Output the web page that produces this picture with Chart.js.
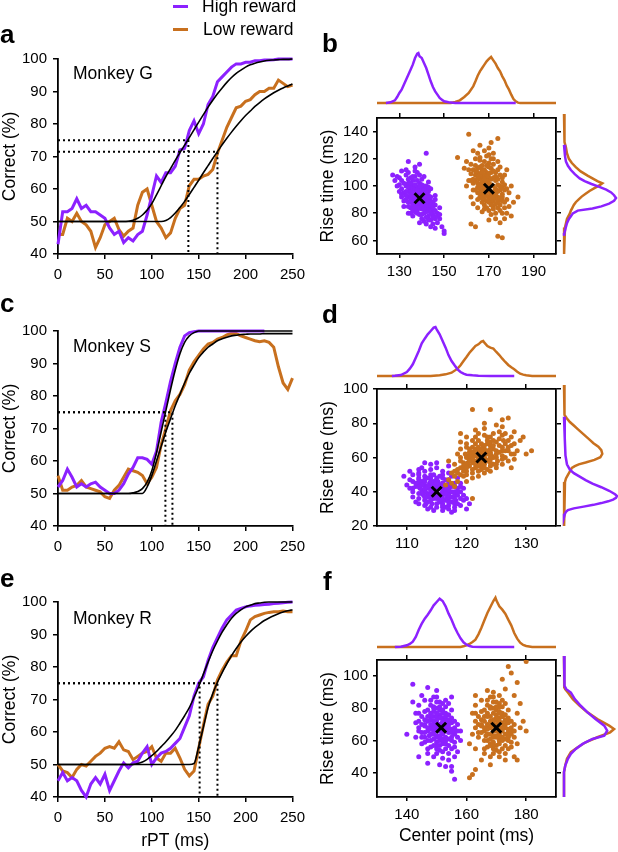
<!DOCTYPE html>
<html>
<head>
<meta charset="utf-8">
<script src="https://cdn.jsdelivr.net/npm/chart.js@4.4.1/dist/chart.umd.min.js"></script>
<style>
html, body { margin: 0; padding: 0; background: #fff; }
#fig { position: relative; width: 618px; height: 852px; overflow: hidden; font-family: "Liberation Sans", Arial, sans-serif; color: #000; }
#fig canvas { position: absolute; }
.lbl { position: absolute; line-height: 1; white-space: nowrap; z-index: 5; }
.panel { font-weight: bold; font-size: 26px; }
.note { font-size: 17.5px; }
.key { position: absolute; width: 15px; height: 3px; z-index: 5; }
</style>
</head>
<body>
<div id="fig">
  <canvas id="lineA" width="312" height="242" style="left:0;top:44px"></canvas>
  <canvas id="lineC" width="312" height="242" style="left:0;top:316px"></canvas>
  <canvas id="lineE" width="312" height="265" style="left:0;top:587px"></canvas>
  <canvas id="scatB" width="250" height="182" style="left:318px;top:104px"></canvas>
  <canvas id="scatD" width="250" height="183" style="left:318px;top:375px"></canvas>
  <canvas id="scatF" width="250" height="201" style="left:318px;top:646px"></canvas>
  <canvas id="topB" width="179" height="59" style="left:377px;top:47px"></canvas>
  <canvas id="topD" width="179" height="59" style="left:377px;top:320px"></canvas>
  <canvas id="topF" width="179" height="59" style="left:377px;top:591px"></canvas>
  <canvas id="sideB" width="56" height="140" style="left:562px;top:114px"></canvas>
  <canvas id="sideD" width="56" height="141" style="left:562px;top:385px"></canvas>
  <canvas id="sideF" width="56" height="141" style="left:562px;top:656px"></canvas>

  <div class="key" style="left:173px;top:5px;background:#8c21ff"></div>
  <div class="lbl note" style="left:202px;top:-2px">High reward</div>
  <div class="key" style="left:173px;top:28px;background:#c8701e"></div>
  <div class="lbl note" style="left:203px;top:21px">Low reward</div>

  <div class="lbl panel" style="left:0;top:21px">a</div>
  <div class="lbl panel" style="left:322px;top:30px">b</div>
  <div class="lbl panel" style="left:0;top:290px">c</div>
  <div class="lbl panel" style="left:322px;top:301px">d</div>
  <div class="lbl panel" style="left:0;top:565px">e</div>
  <div class="lbl panel" style="left:323px;top:568px">f</div>

  <div class="lbl note" style="left:73px;top:65px">Monkey G</div>
  <div class="lbl note" style="left:73px;top:338px">Monkey S</div>
  <div class="lbl note" style="left:73px;top:610px">Monkey R</div>
</div>

<script>
// colours of the two reward conditions
const HIGH = '#8c21ff';
const LOW = '#c8701e';

// ---- psychometric curves (rPT in ms, % correct) ----
const rpt = [0, 5, 10, 15, 20, 25, 30, 35, 40, 45, 50, 55, 60, 65, 70, 75, 80, 85, 90, 95,
  100, 105, 110, 115, 120, 125, 130, 135, 140, 145, 150, 155, 160, 165, 170, 175, 180, 185, 190, 195,
  200, 205, 210, 215, 220, 225, 230, 235, 240, 245, 250];
const rptTicks = [0, 50, 100, 150, 200, 250];
const correctTicks = [40, 50, 60, 70, 80, 90, 100];

// Monkey G
const highA = [43, 53, 53, 54, 57, 54, 55, 53, 53, 52,
  51, 48, 46, 47, 43.5, 45, 44, 46, 47, 52,
  58, 64, 62, 65, 65, 67, 72, 72.5, 78, 81,
  77, 80, 86, 88.5, 93, 94.5, 96, 97.5, 98.5, 98.5,
  99, 99, 99.5, 99.5, 99.7, 99.7, 99.8, 100, 100, 100, 100];
const lowA = [46, 46, 51, 50, 52.5, 50, 49, 47, 42, 45,
  49, 50, 51, 47.5, 45.5, 47, 48, 55, 59, 60,
  55, 50, 48, 45, 46.5, 51, 54, 55, 61, 63,
  63, 64, 64.5, 66, 71, 75, 79, 82, 85, 85.5,
  87, 87.5, 89, 90, 90, 91, 91, 93.5, 92.5, 91.5, 92];
const fitHighA = [50, 50, 50, 50, 50, 50, 50, 50, 50, 50,
  50, 50, 50, 50, 50, 50.1, 50.4, 51, 52, 53.5,
  55.5, 58.2, 61, 63.8, 66.3, 68.8, 71.2, 73.5, 75.8, 78.2,
  80.6, 82.9, 85.2, 87.3, 89.3, 91.1, 92.8, 94.3, 95.6, 96.6,
  97.5, 98.2, 98.7, 99.1, 99.4, 99.6, 99.7, 99.8, 99.9, 99.9, 100];
const fitLowA = [50, 50, 50, 50, 50, 50, 50, 50, 50, 50,
  50, 50, 50, 50, 50, 50, 50, 50, 50, 50,
  50, 50, 50, 50.3, 51.2, 52.6, 54.3, 56.2, 58.3, 60.5,
  62.7, 65, 67.2, 69.4, 71.5, 73.6, 75.6, 77.5, 79.3, 81,
  82.6, 84, 85.4, 86.6, 87.7, 88.7, 89.6, 90.4, 91.1, 91.7, 92.3];
const levelA = [75, 71.5];
const crossA = [139, 170];

// Monkey S
const highC = [52, 54, 57.5, 55, 52, 53, 52, 53, 53.5, 52,
  51, 50, 50, 51, 53, 56, 58, 61, 61, 60.5,
  59, 63, 72, 78, 84.5, 90, 95, 98.5, 99.5, 99.8,
  100, 100, 100, 100, 100, 100, 100, 100, 100, 100,
  100, 100, 100, 100, 100, null, null, null, null, null, null];
const lowC = [55.5, 51, 51, 52, 52.5, 54, 52, 51.5, 51, 50.5,
  49, 48.5, 51, 52.5, 55, 57.5, 57, 56.5, 55.5, 53,
  55, 58, 65, 70, 75.5, 78.5, 80.5, 83.5, 88, 90.5,
  92.5, 94.5, 96, 96.5, 97.5, 98, 98.8, 99.3, 99.2, 98.5,
  98, 97.5, 97, 96.7, 97, 96.5, 95, 89, 84, 82, 85.5];
const fitHighC = [50, 50, 50, 50, 50, 50, 50, 50, 50, 50,
  50, 50, 50, 50, 50, 50, 50.2, 50.6, 51.5, 53.5,
  57, 62.5, 69, 75.5, 82, 88, 93, 96.5, 98.5, 99.5,
  100, 100, 100, 100, 100, 100, 100, 100, 100, 100,
  100, 100, 100, 100, 100, 100, 100, 100, 100, 100, 100];
const fitLowC = [50, 50, 50, 50, 50, 50, 50, 50, 50, 50,
  50, 50, 50, 50, 50, 50, 50, 50, 50, 52,
  55.5, 60, 64.5, 69, 73, 77, 80.5, 84, 87, 89.5,
  91.8, 93.5, 95, 96, 97, 97.6, 98.1, 98.5, 98.7, 98.9,
  99, 99.1, 99.1, 99.1, 99.2, 99.2, 99.2, 99.2, 99.2, 99.2, 99.2];
const levelC = [75, 75];
const crossC = [114.5, 122];

// Monkey R
const highE = [45, 47.5, 45, 46, 45, 42, 40, 44, 46, 44,
  47, 42, 45, 48, 50.5, 49, 50.5, 51, 53.5, 55.5,
  50, 52, 53.5, 54, 55, 56.5, 58, 61.5, 65, 71,
  75, 77, 82, 86, 89, 92, 94.5, 96, 97.5, 98,
  98.5, 98.8, 99, 99.1, 99.2, 99.3, 99.5, 99.6, 99.8, 99.9, 100];
const lowE = [50, 48, 47.5, 46, 48.5, 50, 49.5, 51, 52.5, 53.5,
  55, 55.5, 55, 57, 54.5, 54, 51.5, 52.5, 53.5, 54,
  55.5, 52, 51, 53.5, 53.5, 55, 52, 48.5, 46.5, 48,
  55, 62, 68.5, 71, 76, 79, 81.5, 83.5, 83.5, 88,
  91, 94.5, 95.5, 96, 96.5, 96.8, 97, 97, 97.2, 97, 97];
const fitHighE = [50, 50, 50, 50, 50, 50, 50, 50, 50, 50,
  50, 50, 50, 50, 50, 50, 50, 50.3, 50.8, 51.6,
  52.7, 54, 55.5, 57, 58.7, 60.5, 62.7, 65, 67.5, 70.6,
  74, 77.8, 81.5, 85, 88, 90.7, 93, 95, 96.5, 97.6,
  98.5, 99, 99.5, 99.7, 99.9, 100, 100, 100, 100, 100, 100];
const fitLowE = [50, 50, 50, 50, 50, 50, 50, 50, 50, 50,
  50, 50, 50, 50, 50, 50, 50, 50, 50, 50,
  50, 50, 50, 50, 50, 50, 50, 50, 50, 50.3,
  55.5, 61.5, 67.5, 71.8, 75.3, 78.3, 81, 83.5, 85.7, 87.7,
  89.4, 90.9, 92.2, 93.3, 94.3, 95.1, 95.8, 96.4, 96.9, 97.3, 97.6];
const levelE = [75, 75];
const crossE = [151, 170];

// ---- bootstrap fits: center point (ms), rise time (ms) pairs ----
const bXTicks = [130, 150, 170, 190];
const bYTicks = [60, 80, 100, 120, 140];
const bHigh = [139,91, 137,94, 141,88, 135,97, 143,85, 138,99, 140,83, 136,90, 142,93, 134,92,
  144,89, 137,86, 139,102, 141,80, 133,100, 145,82, 136,104, 142,98, 138,87, 140,95,
  132,95, 146,86, 135,84, 143,78, 137,107, 139,79, 134,102, 141,100, 144,75, 131,98,
  138,92, 136,96, 140,89, 142,84, 134,88, 143,91, 137,81, 139,97, 145,88, 133,93,
  131,104, 135,106, 147,80, 146,76, 138,110, 130,101, 136,100, 140,105, 142,77, 144,84,
  132,89, 148,84, 136,82, 141,95, 139,85, 137,99, 143,96, 135,91, 145,79, 133,108,
  129,107, 128,104, 130,96, 147,73, 149,70, 148,76, 145,72, 142,72, 140,76, 139,73,
  134,110, 137,114, 139,116, 134,118, 142,124, 131,111, 127,108, 129,100, 150,67, 150,65,
  146,69, 144,70, 131,92, 132,85, 134,80, 136,78, 141,107, 143,103, 144,98, 146,93,
  138,82, 140,98, 142,89, 136,93, 134,96, 141,86, 143,82, 137,90, 139,88, 135,100,
  138,95, 140,92, 136,88, 142,86, 137,101, 139,84, 141,97, 135,94, 143,88, 134,99,
  138,89, 140,86, 137,92, 139,94, 141,91, 136,98, 142,81, 144,86, 135,88, 138,104,
  140,101, 143,93, 133,96, 146,82, 139,90, 137,97, 141,83, 136,86, 138,80, 142,95,
  134,105, 144,80, 140,79, 135,102, 139,108, 132,102, 145,85, 143,75, 137,84, 141,92,
  136,107, 133,90, 147,78, 138,97, 140,90, 142,100, 134,85, 144,92, 136,95, 139,100,
  131,94, 130,106, 148,79, 145,77, 141,74, 137,111, 133,112, 146,90, 135,80, 143,99];
const bLow = [170,98, 168,102, 172,95, 166,105, 174,92, 169,110, 171,88, 167,97, 173,104, 165,99,
  175,100, 168,90, 170,114, 172,85, 164,108, 176,94, 167,112, 173,110, 169,93, 171,105,
  163,102, 177,97, 166,92, 174,84, 168,118, 170,82, 165,113, 172,116, 175,86, 162,109,
  169,99, 167,107, 171,96, 173,91, 165,95, 174,101, 168,86, 170,106, 176,103, 164,104,
  162,116, 166,119, 178,90, 177,84, 169,122, 161,112, 167,101, 171,120, 173,80, 175,108,
  163,97, 179,95, 167,88, 172,100, 170,91, 168,108, 174,112, 166,98, 176,89, 164,120,
  160,118, 159,113, 161,104, 178,80, 180,78, 179,85, 176,80, 173,76, 171,79, 170,75,
  165,124, 168,126, 170,128, 166,130, 161,138, 174,135, 156,121, 160,100, 183,92, 181,88,
  177,76, 175,73, 162,92, 163,87, 165,84, 167,81, 172,124, 174,118, 175,114, 177,108,
  169,84, 171,110, 173,97, 167,94, 165,110, 172,89, 174,88, 168,95, 170,102, 166,114,
  162,72, 164,70, 174,63, 176,62, 180,100, 178,112, 163,126, 171,132,
  169,100, 171,94, 167,103, 173,98, 168,96, 170,109, 172,106, 166,108, 174,96, 165,102,
  169,104, 171,91, 168,112, 170,96, 172,92, 167,115, 173,87, 175,97, 164,111, 170,100,
  168,99, 176,99, 166,95, 171,101, 169,89, 173,107, 165,106, 170,117, 172,83, 167,91,
  174,105, 163,105, 176,92, 171,113, 169,107, 175,82, 168,93, 177,101, 166,101, 170,88,
  164,97, 172,111, 167,110, 174,90, 169,115, 171,86, 165,90, 173,94, 168,105, 175,91,
  162,104, 178,98, 166,121, 170,123, 177,88, 164,115, 172,120, 176,106, 168,83, 163,112];
const bCenters = [139,91, 170,98];

const dXTicks = [110, 120, 130];
const dYTicks = [20, 40, 60, 80, 100];
const dHigh = [115,40, 114,42, 116,38, 113,44, 117,36, 114.5,46, 115.5,34, 113.5,39, 116.5,43, 112.5,41,
  117.5,40, 114,37, 115,48, 116,33, 112,45, 118,38, 113,47, 116.5,47, 114.5,36, 115.5,44,
  111.5,43, 118.5,42, 113,35, 117,32, 114,50, 115,31, 112,48, 116,50, 117.5,34, 111,46,
  114.8,41, 113.8,45, 115.8,39, 116.8,37, 112.8,38, 117.2,44, 114.2,33, 115.2,46, 118.2,35, 112.2,42,
  111,50, 113,52, 119,40, 118.5,33, 115,54, 110.5,47, 113.5,42, 116,52, 117,30, 118,45,
  112,36, 119.5,38, 113.2,33, 116.2,41, 115,37, 114,48, 117,47, 113,41, 118,31, 112,51,
  110,44, 109.5,49, 111,40, 119,32, 120,36, 119.5,42, 118,29, 116,29, 114.5,29, 113.5,30,
  112.5,54, 114,56, 115,57, 112,53, 113,57, 117,55, 110.5,52, 111,37, 120.5,33, 120,30,
  117.5,28, 116.5,31, 112,33, 111.5,34, 114,31, 116,45, 117.5,49, 118.5,48, 119,45, 118.5,38,
  114.5,44, 115.5,42, 116.5,35, 113.5,37, 112.5,46, 116,36, 117,39, 114,39, 115,43, 113,49,
  115,41, 114,44, 116,40, 113,40, 117,42, 115,36, 114,38, 116,45, 115,47, 113,46,
  117,38, 116,35, 114,35, 112,43, 118,40, 115,39, 116.5,41, 113.5,43, 114.5,40, 115.5,37,
  117,45, 112.5,39, 116,48, 114,46, 118,36, 113,37, 115,33, 117,34, 112,47, 116,31,
  114.5,50, 115.5,49, 113.5,48, 117.5,43, 118.5,40, 111.5,45, 112,39, 119,36, 116,43, 114,41,
  115,45, 117,41, 113,42, 116.5,39, 114.5,38, 118,43, 112.5,44, 115.5,35, 113.5,34, 117.5,37,
  111,42, 119,43, 112,50, 117,51, 114,53, 118,33, 116,32, 113,32, 119.5,35, 110.5,42];
const dLow = [122.5,60, 121.5,58, 123.5,62, 120.5,55, 124.5,65, 122,64, 123,56, 121,61, 124,59, 120,52,
  125,62, 121.5,54, 122.5,68, 123.5,53, 119.5,57, 125.5,67, 121,66, 124,69, 122,57, 123,63,
  119,50, 126,64, 120.5,59, 124.5,56, 121,70, 123,51, 118.5,53, 124,72, 126.5,60, 118,49,
  122.2,61, 121.2,63, 123.2,59, 124.2,61, 120.2,57, 125.2,58, 121.8,55, 122.8,66, 126.2,70, 119.8,62,
  118,56, 120,66, 127,66, 127.5,62, 122,74, 117.5,51, 121.5,65, 123.5,72, 125,54, 126,73,
  119.5,54, 128,68, 120,50, 124,63, 122.5,58, 121,57, 124.5,70, 120.5,63, 127,58, 119,60,
  117,47, 117.5,45, 118.5,46, 128.5,64, 129,70, 128,59, 126,56, 124,52, 122,52, 121,48,
  120,72, 121.5,76, 123,77, 119,69, 121,88, 124,88, 127,83, 125,79, 130.9,64, 129.5,72,
  116.5,44, 118,43, 121,36, 119,65, 117,58, 120,46, 126,78, 128,75, 127.5,72, 125.5,75,
  123,65, 122,62, 121,59, 124,67, 125,60, 123.5,68, 120,61, 122.5,55, 126.5,68, 119.5,52,
  118.5,62, 127.5,54, 130,62, 123,80, 126,82, 119,74,
  122,60, 123,61, 121,59, 124,62, 122.5,63, 121.5,56, 123.5,58, 120.5,58, 124.5,60, 122,66,
  123,67, 121,63, 125,64, 120,56, 124,57, 122.5,53, 126,66, 121.5,68, 123.5,70, 119.5,55,
  125.5,63, 120,60, 122,55, 124,65, 123,58, 121,53, 126.5,64, 122.5,65, 124.5,67, 120.5,61,
  127,64, 119,54, 123,54, 121.5,61, 125,69, 122,70, 124,55, 126,61, 120,54, 123.5,64,
  118.5,51, 127,70, 125.5,71, 121,51, 119,58, 126,59, 122.5,57, 124,60, 120.5,65, 123,73,
  119.5,49, 128,62, 125,56, 121.5,72, 127.5,67, 118,52, 124.5,74, 126.5,74, 120,68, 122,49];
const dCenters = [115,40, 122.5,60];

const fXTicks = [140, 160, 180];
const fYTicks = [40, 60, 80, 100];
const fHigh = [151,68, 150,72, 152,65, 149,75, 153,62, 151,79, 152,58, 148,68, 154,70, 147,66,
  155,67, 150,62, 151,84, 153,55, 146,73, 156,64, 149,81, 153,77, 150,59, 152,74,
  145,70, 155,74, 148,60, 154,57, 150,87, 151,54, 147,79, 152,83, 155,60, 144,77,
  151.5,70, 149.5,71, 152.5,66, 153.5,69, 147.5,63, 154.5,72, 149,64, 151,76, 156,68, 146,69,
  144,82, 148,85, 157,62, 156,56, 150,91, 143,77, 149,69, 153,81, 154,52, 155,79,
  145,65, 157,70, 148,56, 152,71, 151,63, 150,80, 154,83, 147,72, 156,59, 146,85,
  142,84, 142,95, 147,93, 145,88, 155,87, 140,64, 143,71, 143,62, 146,59, 147,52,
  149,50, 152,49, 154,48, 157,53, 158,60, 158,66, 156,50, 144,50, 147,46, 151,45,
  153,44, 155,44, 156,36, 155,41, 150,67, 152,69, 148,73, 154,65, 153,73, 149,78,
  146,62, 150,55, 152,61, 148,77, 150,75, 153,58, 151,60, 149,66, 144,66, 145,58,
  151,70, 150,66, 152,68, 149,72, 153,66, 151,74, 150,63, 152,60, 148,70, 154,68,
  151,57, 150,77, 152,79, 149,61, 153,71, 147,68, 155,65, 150,69, 152,64, 148,64,
  154,61, 149,80, 151,81, 146,70, 155,71, 150,57, 153,75, 148,75, 152,53, 147,60,
  154,76, 151,66, 149,68, 153,60, 150,73, 146,65, 156,66, 148,82, 152,77, 145,75,
  155,62, 150,84, 147,75, 153,68, 151,62, 149,57, 154,73, 148,67, 152,72, 146,78,
  144,72, 157,66, 150,52, 149,87, 153,85, 145,62, 156,72, 147,55, 155,55, 144,68];
const fLow = [170,68, 169,72, 171,65, 168,75, 172,62, 170,79, 171,58, 167,68, 173,70, 166,66,
  174,67, 169,62, 170,84, 172,55, 165,73, 175,64, 168,81, 172,77, 169,59, 171,74,
  164,70, 174,74, 167,60, 173,57, 169,87, 170,54, 166,79, 171,83, 174,60, 163,77,
  170.5,70, 168.5,71, 171.5,66, 172.5,69, 166.5,63, 173.5,72, 168,64, 170,76, 175,68, 165,69,
  163,82, 167,85, 176,62, 175,56, 169,90, 162,77, 168,69, 172,81, 173,52, 174,79,
  164,65, 176,70, 167,56, 171,71, 170,63, 169,80, 173,83, 166,72, 175,59, 165,85,
  162,64, 161,58, 163,55, 177,77, 178,68, 177,58, 176,50, 166,52, 168,50, 171,50,
  173,48, 165,48, 168,45, 163,42, 161,37, 162,39, 177,48, 179,72, 180,66, 178,83,
  173,92, 172,98, 175,102, 174,106, 180,109, 177,96, 171,88, 176,88, 167,91, 163,88,
  170,73, 171,62, 169,66, 172,75, 168,58, 173,64, 167,77, 171,78, 169,55, 174,63,
  170,70, 169,66, 171,68, 168,72, 172,66, 170,74, 169,63, 171,60, 167,70, 173,68,
  170,57, 169,77, 171,81, 168,61, 172,71, 166,68, 174,65, 169,69, 171,64, 167,64,
  173,61, 168,80, 170,81, 165,70, 174,71, 169,57, 172,75, 167,75, 171,53, 166,60,
  173,76, 170,66, 168,68, 172,60, 169,73, 165,65, 175,66, 167,82, 171,77, 164,75,
  174,62, 169,84, 166,75, 172,68, 170,62, 168,57, 173,73, 167,67, 171,72, 165,78,
  163,72, 176,66, 169,52, 168,87, 172,85, 164,62, 175,72, 166,55, 174,55, 163,68];
const fCenters = [151.5,68, 170,68];

// ---- marginal distributions: (center point, count) and (rise time, count) ----
const bTopHigh = [124,0, 126,2, 128,8, 129,18, 130,30, 131,40, 132,55, 133,70, 134,85, 135,100,
  136,115, 137,135, 138,148, 138.5,150, 139,140, 140,135, 141,120, 142,105, 143,85, 144,65,
  145,48, 146,35, 147,25, 148,15, 149,10, 150,5, 152,2, 155,0, 182,0];
const bTopLow = [120,0, 153,0, 155,3, 157,8, 159,18, 161,30, 163,50, 164,65, 165,82, 166,95,
  167,105, 168,115, 169,125, 170,132, 171,138, 172,128, 173,118, 174,105, 175,95, 176,80,
  177,68, 178,52, 179,40, 180,25, 181,12, 182,5, 183,1, 184,0, 200,0];
const bSideHigh = [128,0, 120,1, 116,2, 113,4, 110,7, 107,11, 104,16, 102,21, 100,28, 98,36,
  96,43, 94,48, 92,51, 90,53, 88,51, 86,46, 84,38, 82.5,29, 81,14, 79,9,
  77,7, 75,5, 72,3, 68,1.5, 65,0.5, 63,0];
const bSideLow = [150,0, 134,0, 130,1, 126,2, 122,3, 118,5, 115,8, 112,12, 109,17, 106,24,
  104,29, 102,34, 100.5,39, 99,36, 97,31, 95,26, 93,22, 91,18, 89,15, 87,12,
  85,10, 83,8.5, 81,7, 79,6, 77,4.5, 75,3, 72,2, 69,1, 66,0.3, 63,0, 50,0];

const dTopHigh = [107.5,0, 108,0.5, 109,3, 110,12, 110.5,22, 111,35, 111.5,55, 112,75, 112.5,98, 113,112,
  113.5,125, 114,135, 114.5,145, 114.8,147, 115,140, 115.5,125, 116,105, 116.5,85, 117,62, 117.5,45,
  118,32, 118.5,20, 119,12, 119.5,7, 120,4, 121,2, 122,1, 124,0, 128,0];
const dTopLow = [105,0, 114,0, 115.5,2, 116.5,5, 117.5,10, 118.5,22, 119,32, 119.5,45, 120,57, 120.5,70,
  121,80, 121.5,90, 122,95, 122.5,103, 122.8,105, 123,100, 123.5,90, 124,85, 124.5,82, 125,72,
  125.5,63, 126,52, 126.5,42, 127,33, 127.5,26, 128,20, 128.5,13, 129,7, 129.5,4, 130,2, 131,0, 135,0];
const dSideHigh = [82,0, 80,0.5, 70,1, 60,1.5, 55,3, 52,6, 50,10, 48,16, 46,22, 44,29,
  42,38, 40,46, 38,52, 37,54, 36,53, 35,50, 34,45, 33,38, 32,30, 31,20,
  30,10, 29,4, 28,2, 27,1, 25,0];
const dSideLow = [100,0, 85,0, 83,1, 81,3, 79,6, 77,10, 75,14, 73,18, 71,22, 69,26,
  67,30, 65,35, 63,38, 61,39, 59,37, 57.5,31, 56,22, 55,15, 54,11, 53,8,
  51,6, 49,4, 47,2, 45,1, 43,0.3, 41,0, 20,0];

const fTopHigh = [136,0, 138,1, 139,3, 140,5, 141,9, 142,16, 143,30, 144,52, 145,70, 146,85,
  147,97, 148,110, 149,125, 150,135, 151,145, 152,138, 153,122, 154,100, 155,82, 156,60,
  157,42, 158,26, 159,14, 160,7, 161,3, 162,1, 165,0, 176,0];
const fTopLow = [130,0, 158,0, 159,2, 160,5, 161,9, 162,15, 163,22, 164,38, 165,58, 166,80,
  167,102, 168,120, 169,138, 169.7,148, 170,140, 171,122, 172,112, 173,100, 174,82, 175,65,
  176,42, 177,25, 178,13, 179,6, 180,3, 182,0, 190,0];
const fSideHigh = [110,0, 95,0, 92,1, 90,2.3, 88,7, 84,11, 80,17, 76,24, 72,32, 68,41,
  65,44, 62,41, 60,29, 57,19, 54,12, 51,7, 48,4, 44,1.3, 40,0, 25,0];
const fSideLow = [110,0, 94,0, 91,0.5, 90,1.3, 88,4, 84,9, 80,16, 76,24, 72,34, 68,46,
  66,51, 64,47, 61,34, 58,22, 55,14, 52,7, 48,3, 44,1.3, 40,0, 25,0];

// ---- chart defaults ----
Chart.defaults.font.family = '"Liberation Sans", Arial, sans-serif';
Chart.defaults.color = '#000';
Chart.defaults.animation = false;
Chart.defaults.responsive = false;
Chart.defaults.plugins.legend.display = false;
Chart.defaults.plugins.tooltip.enabled = false;

// helpers
function pts(flat) {
  const out = [];
  for (let i = 0; i < flat.length; i += 2) out.push({x: flat[i], y: flat[i + 1]});
  return out;
}
function swapped(flat) {
  const out = [];
  for (let i = 0; i < flat.length; i += 2) out.push({x: flat[i + 1], y: flat[i]});
  return out;
}
function curve(xs, ys) {
  return xs.map((x, i) => ({x: x, y: ys[i]}));
}

function mkAxis(o) {
  const side = o.pos === 'left' || o.pos === 'right';
  return {
    type: 'linear',
    position: o.pos,
    min: o.min,
    max: o.max,
    afterBuildTicks: s => { s.ticks = o.ticks.map(v => ({value: v})); },
    afterFit: s => { if (side) s.width = o.size; else s.height = o.size; },
    ticks: {display: o.labels !== false, font: {size: 15}, padding: o.pad || 5, maxRotation: 0, autoSkip: false},
    grid: {display: true, drawOnChartArea: false, drawTicks: true, tickLength: o.tick || 5, color: '#000', lineWidth: 1.5},
    border: {display: true, color: '#000', width: 1.8},
    title: o.title ? {display: true, text: o.title, font: {size: 17.5}, padding: 0} : {display: false}
  };
}

function linePanel(id, high, low, fitH, fitL, levels, crossX, xTitle, xSize) {
  const guides = levels.map((lv, i) => ({
    data: [{x: 0, y: lv}, {x: crossX[i], y: lv}, {x: crossX[i], y: 40}],
    borderColor: '#000', borderWidth: 2, borderDash: [2, 3], pointRadius: 0, order: 0
  }));
  new Chart(document.getElementById(id), {
    type: 'line',
    data: {
      datasets: [
        {data: curve(rpt, fitH), borderColor: '#000', borderWidth: 1.6, pointRadius: 0, cubicInterpolationMode: 'monotone', clip: 3, order: 1},
        {data: curve(rpt, fitL), borderColor: '#000', borderWidth: 1.6, pointRadius: 0, cubicInterpolationMode: 'monotone', clip: 3, order: 1},
        ...guides,
        {data: curve(rpt, high), borderColor: HIGH, borderWidth: 3, pointRadius: 0, clip: 3, order: 2},
        {data: curve(rpt, low), borderColor: LOW, borderWidth: 3, pointRadius: 0, clip: 3, order: 3}
      ]
    },
    options: {
      layout: {padding: {top: 12, right: 13, left: 0, bottom: 0}},
      scales: {
        x: mkAxis({pos: 'bottom', min: 0, max: 250, ticks: rptTicks, size: xSize, pad: 7, title: xTitle}),
        y: mkAxis({pos: 'left', min: 40, max: 100, ticks: correctTicks, size: 58, pad: 6, title: 'Correct (%)'})
      }
    }
  });
}

function scatterPanel(id, hi, lo, centers, xr, yr, xt, yt, xTitle, xSize) {
  new Chart(document.getElementById(id), {
    type: 'scatter',
    data: {
      datasets: [
        {data: pts(centers), pointStyle: 'crossRot', pointRadius: 7, pointBorderColor: '#000', pointBorderWidth: 3, order: 0},
        {data: pts(lo), pointBackgroundColor: LOW, pointBorderWidth: 0, pointRadius: 2.5, order: 1},
        {data: pts(hi), pointBackgroundColor: HIGH, pointBorderWidth: 0, pointRadius: 2.5, order: 2}
      ]
    },
    options: {
      layout: {padding: {top: 4, right: 6, left: 0, bottom: 0}},
      scales: {
        x: mkAxis({pos: 'bottom', min: xr[0], max: xr[1], ticks: xt, size: xSize, tick: 4, pad: 5, title: xTitle}),
        y: mkAxis({pos: 'left', min: yr[0], max: yr[1], ticks: yt, size: 59, tick: 4, pad: 5, title: 'Rise time (ms)'}),
        x2: mkAxis({pos: 'top', min: xr[0], max: xr[1], ticks: xt, size: 6, tick: 5, labels: false}),
        y2: mkAxis({pos: 'right', min: yr[0], max: yr[1], ticks: yt, size: 6, tick: 5, labels: false})
      }
    }
  });
}

function histLine(data, color, order) {
  return {data: data, showLine: true, borderColor: color, borderWidth: 2.5, pointRadius: 0, clip: 4, order: order};
}

function topHist(id, hi, lo, xr) {
  new Chart(document.getElementById(id), {
    type: 'scatter',
    data: {datasets: [histLine(pts(hi), HIGH, 0), histLine(pts(lo), LOW, 1)]},
    options: {
      layout: {padding: {top: 0, right: 0, left: 0, bottom: 3}},
      scales: {
        x: {type: 'linear', display: false, min: xr[0], max: xr[1]},
        y: {type: 'linear', display: false, min: 0, max: 168}
      }
    }
  });
}

function sideHist(id, hi, lo, yr) {
  new Chart(document.getElementById(id), {
    type: 'scatter',
    data: {datasets: [histLine(swapped(hi), HIGH, 0), histLine(swapped(lo), LOW, 1)]},
    options: {
      layout: {padding: {top: 0, right: 0, left: 2, bottom: 0}},
      scales: {
        x: {type: 'linear', display: false, min: 0, max: 55},
        y: {type: 'linear', display: false, min: yr[0], max: yr[1]}
      }
    }
  });
}

linePanel('lineA', highA, lowA, fitHighA, fitLowA, levelA, crossA, null, 32);
linePanel('lineC', highC, lowC, fitHighC, fitLowC, levelC, crossC, null, 32);
linePanel('lineE', highE, lowE, fitHighE, fitLowE, levelE, crossE, 'rPT (ms)', 55);

scatterPanel('scatB', bHigh, bLow, bCenters, [120, 200], [50, 150], bXTicks, bYTicks, null, 32);
scatterPanel('scatD', dHigh, dLow, dCenters, [105, 135], [20, 100], dXTicks, dYTicks, null, 32);
scatterPanel('scatF', fHigh, fLow, fCenters, [130, 190], [25, 110], fXTicks, fYTicks, 'Center point (ms)', 50);

topHist('topB', bTopHigh, bTopLow, [120, 200]);
topHist('topD', dTopHigh, dTopLow, [105, 135]);
topHist('topF', fTopHigh, fTopLow, [130, 190]);

sideHist('sideB', bSideHigh, bSideLow, [50, 150]);
sideHist('sideD', dSideHigh, dSideLow, [20, 100]);
sideHist('sideF', fSideHigh, fSideLow, [25, 110]);
</script>
</body>
</html>
